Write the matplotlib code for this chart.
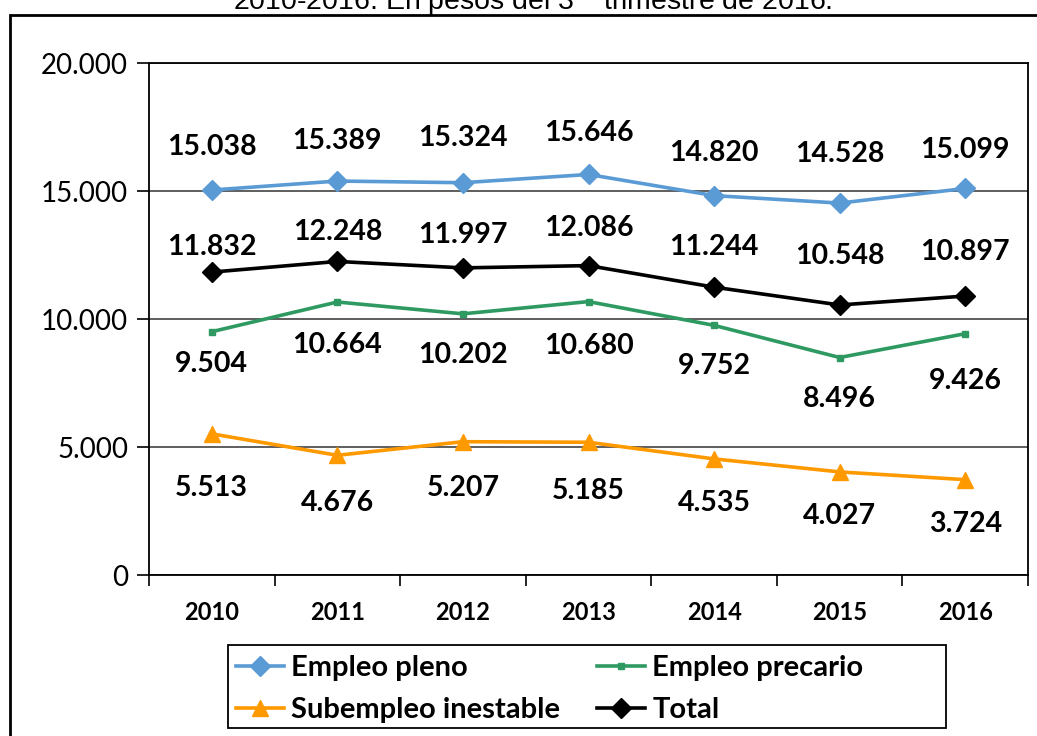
import numpy as np
import matplotlib
matplotlib.use("Agg")
import matplotlib.pyplot as plt
from matplotlib.patches import Rectangle

plt.rcParams['font.family'] = ['Lato', 'DejaVu Sans']

years = ['2010', '2011', '2012', '2013', '2014', '2015', '2016']
empleo_pleno = [15038, 15389, 15324, 15646, 14820, 14528, 15099]
total = [11832, 12248, 11997, 12086, 11244, 10548, 10897]
empleo_precario = [9504, 10664, 10202, 10680, 9752, 8496, 9426]
subempleo = [5513, 4676, 5207, 5185, 4535, 4027, 3724]

# label offsets (points)
off_pleno = [31, 29, 32, 30, 31, 35, 28]
off_total = [18, 21, 24, 27, 29, 35, 32]
off_precario = [-23, -31, -30, -32, -29, -30, -34]
off_sub = [-39, -34, -33, -35, -32, -32, -32]


def fmt(v):
    return '{:,}'.format(v).replace(',', '.')


fig = plt.figure(figsize=(10.37, 7.36), dpi=100)
ax = fig.add_axes([149/1037, 1-575/736, (1028-149)/1037, (575-63)/736])

x = np.arange(len(years))
series = [
    ('Empleo pleno', empleo_pleno, '#5B9BD5', 'D', 10, off_pleno),
    ('Empleo precario', empleo_precario, '#2E9A62', 's', 5, off_precario),
    ('Subempleo inestable', subempleo, '#FF9900', '^', 11, off_sub),
    ('Total', total, '#000000', 'D', 10, off_total),
]
lines = {}
for name, vals, col, mk, ms, offs in series:
    lines[name], = ax.plot(x, vals, color=col, lw=2.6, marker=mk, ms=ms, label=name, zorder=3)
    for xi, v, o in zip(x, vals, offs):
        ax.annotate(fmt(v), (xi, v), xytext=(0, o), textcoords='offset points',
                    ha='center', va='center', fontsize=20.5, fontweight='bold')

ax.set_xlim(-0.5, 6.5)
ax.set_ylim(0, 20000)
ax.set_yticks([0, 5000, 10000, 15000, 20000])
ax.set_yticklabels(['0', '5.000', '10.000', '15.000', '20.000'], fontsize=20)
ax.tick_params(axis='y', length=9, width=1.2, pad=6)
ax.set_xticks(x)
ax.set_xticklabels(years, fontsize=17, fontweight='bold')
ax.set_xticks(np.arange(-0.5, 7, 1), minor=True)
ax.tick_params(axis='x', which='major', length=0, pad=19)
ax.tick_params(axis='x', which='minor', length=8, width=1.2)
ax.grid(axis='y', color='#333333', lw=1.1)
ax.set_axisbelow(True)
for s in ax.spines.values():
    s.set_linewidth(1.3)

# legend (row-wise order like the original), box drawn separately
order = ['Empleo pleno', 'Subempleo inestable', 'Empleo precario', 'Total']
fig.legend([lines[k] for k in order], order, loc='upper left',
           bbox_to_anchor=(236/1037, 1-655/736), ncol=2,
           prop={'size': 21, 'weight': 'bold'}, frameon=False,
           handlelength=1.65, handletextpad=0.25, columnspacing=1.25,
           borderaxespad=0, labelspacing=0.55, borderpad=0)
fig.patches.append(Rectangle((228/1037, 1-728/736), (946-228)/1037, (728-645)/736,
                             transform=fig.transFigure, fill=False, edgecolor='black', lw=1.3))

fig.patches.append(Rectangle((10/1037, -0.1), 1.2, 1-15/736 + 0.1, transform=fig.transFigure,
                             fill=False, edgecolor='black', lw=2))

fig.text(0.514, 1-10/736, '2010-2016. En pesos del 3$^{\\mathrm{er}}$ trimestre de 2016.',
         ha='center', va='baseline', fontsize=20.5, family='Liberation Sans')

fig.savefig('out.png', dpi=100)
